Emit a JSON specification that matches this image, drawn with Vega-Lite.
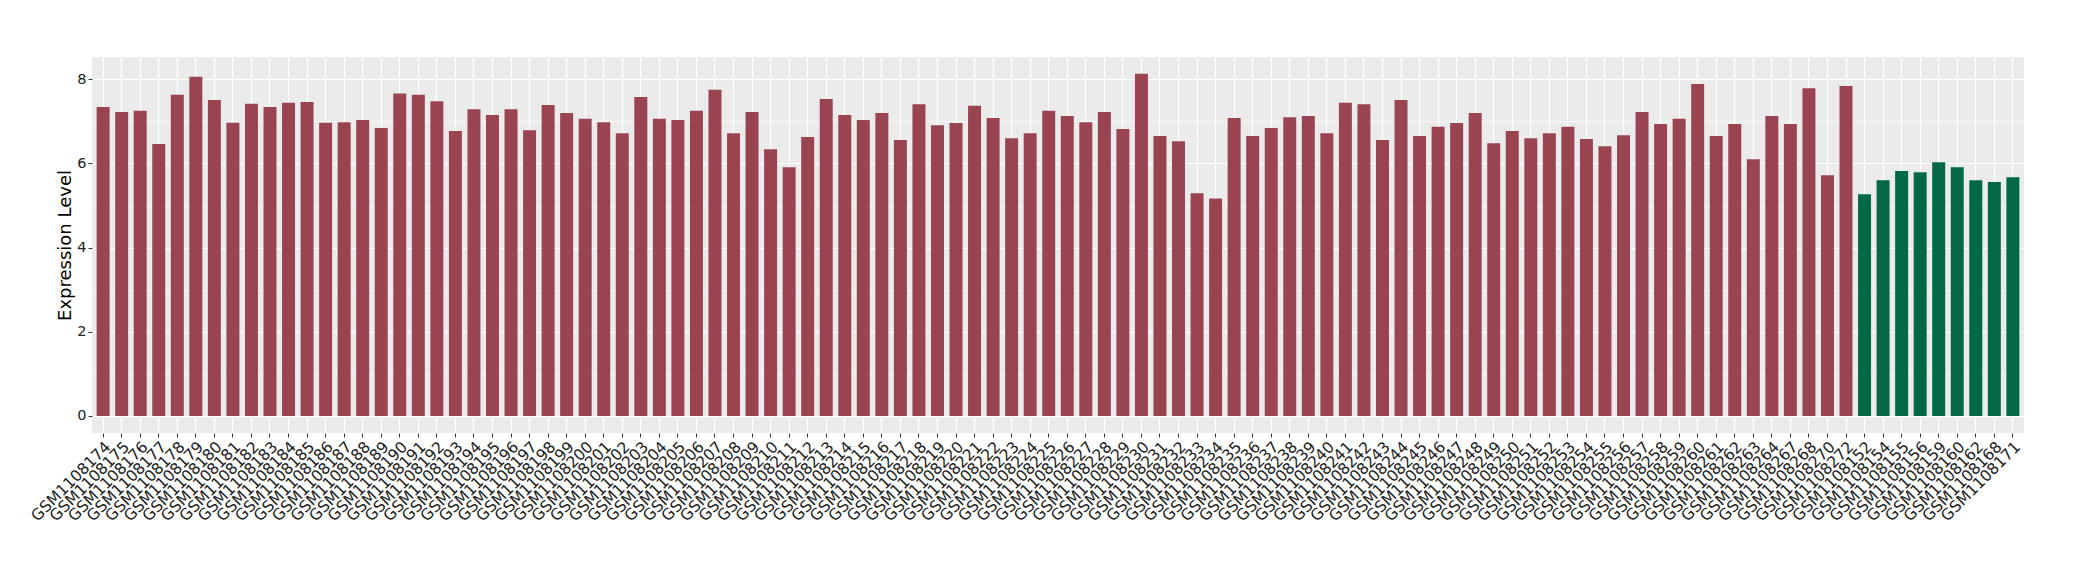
{
  "$schema": "https://vega.github.io/schema/vega-lite/v6.json",
  "width": 1932,
  "height": 376,
  "autosize": "none",
  "padding": {"left": 92, "top": 57, "right": 56, "bottom": 147},
  "background": "white",
  "config": {
    "font": "DejaVu Sans",
    "view": {"fill": "#EBEBEB", "stroke": null}
  },
  "data": {
    "values": [
      {"sample": "GSM1108174", "value": 7.34, "group": "A"},
      {"sample": "GSM1108175", "value": 7.22, "group": "A"},
      {"sample": "GSM1108176", "value": 7.25, "group": "A"},
      {"sample": "GSM1108177", "value": 6.46, "group": "A"},
      {"sample": "GSM1108178", "value": 7.63, "group": "A"},
      {"sample": "GSM1108179", "value": 8.06, "group": "A"},
      {"sample": "GSM1108180", "value": 7.51, "group": "A"},
      {"sample": "GSM1108181", "value": 6.97, "group": "A"},
      {"sample": "GSM1108182", "value": 7.42, "group": "A"},
      {"sample": "GSM1108183", "value": 7.34, "group": "A"},
      {"sample": "GSM1108184", "value": 7.44, "group": "A"},
      {"sample": "GSM1108185", "value": 7.46, "group": "A"},
      {"sample": "GSM1108186", "value": 6.97, "group": "A"},
      {"sample": "GSM1108187", "value": 6.98, "group": "A"},
      {"sample": "GSM1108188", "value": 7.03, "group": "A"},
      {"sample": "GSM1108189", "value": 6.84, "group": "A"},
      {"sample": "GSM1108190", "value": 7.66, "group": "A"},
      {"sample": "GSM1108191", "value": 7.63, "group": "A"},
      {"sample": "GSM1108192", "value": 7.48, "group": "A"},
      {"sample": "GSM1108193", "value": 6.77, "group": "A"},
      {"sample": "GSM1108194", "value": 7.29, "group": "A"},
      {"sample": "GSM1108195", "value": 7.15, "group": "A"},
      {"sample": "GSM1108196", "value": 7.29, "group": "A"},
      {"sample": "GSM1108197", "value": 6.79, "group": "A"},
      {"sample": "GSM1108198", "value": 7.39, "group": "A"},
      {"sample": "GSM1108199", "value": 7.20, "group": "A"},
      {"sample": "GSM1108200", "value": 7.06, "group": "A"},
      {"sample": "GSM1108201", "value": 6.98, "group": "A"},
      {"sample": "GSM1108202", "value": 6.72, "group": "A"},
      {"sample": "GSM1108203", "value": 7.58, "group": "A"},
      {"sample": "GSM1108204", "value": 7.06, "group": "A"},
      {"sample": "GSM1108205", "value": 7.03, "group": "A"},
      {"sample": "GSM1108206", "value": 7.25, "group": "A"},
      {"sample": "GSM1108207", "value": 7.75, "group": "A"},
      {"sample": "GSM1108208", "value": 6.72, "group": "A"},
      {"sample": "GSM1108209", "value": 7.22, "group": "A"},
      {"sample": "GSM1108210", "value": 6.34, "group": "A"},
      {"sample": "GSM1108211", "value": 5.91, "group": "A"},
      {"sample": "GSM1108212", "value": 6.63, "group": "A"},
      {"sample": "GSM1108213", "value": 7.53, "group": "A"},
      {"sample": "GSM1108214", "value": 7.15, "group": "A"},
      {"sample": "GSM1108215", "value": 7.03, "group": "A"},
      {"sample": "GSM1108216", "value": 7.20, "group": "A"},
      {"sample": "GSM1108217", "value": 6.56, "group": "A"},
      {"sample": "GSM1108218", "value": 7.41, "group": "A"},
      {"sample": "GSM1108219", "value": 6.91, "group": "A"},
      {"sample": "GSM1108220", "value": 6.96, "group": "A"},
      {"sample": "GSM1108221", "value": 7.37, "group": "A"},
      {"sample": "GSM1108222", "value": 7.08, "group": "A"},
      {"sample": "GSM1108223", "value": 6.60, "group": "A"},
      {"sample": "GSM1108224", "value": 6.72, "group": "A"},
      {"sample": "GSM1108225", "value": 7.25, "group": "A"},
      {"sample": "GSM1108226", "value": 7.13, "group": "A"},
      {"sample": "GSM1108227", "value": 6.98, "group": "A"},
      {"sample": "GSM1108228", "value": 7.22, "group": "A"},
      {"sample": "GSM1108229", "value": 6.82, "group": "A"},
      {"sample": "GSM1108230", "value": 8.13, "group": "A"},
      {"sample": "GSM1108231", "value": 6.65, "group": "A"},
      {"sample": "GSM1108232", "value": 6.53, "group": "A"},
      {"sample": "GSM1108233", "value": 5.29, "group": "A"},
      {"sample": "GSM1108234", "value": 5.17, "group": "A"},
      {"sample": "GSM1108235", "value": 7.08, "group": "A"},
      {"sample": "GSM1108236", "value": 6.65, "group": "A"},
      {"sample": "GSM1108237", "value": 6.84, "group": "A"},
      {"sample": "GSM1108238", "value": 7.10, "group": "A"},
      {"sample": "GSM1108239", "value": 7.13, "group": "A"},
      {"sample": "GSM1108240", "value": 6.72, "group": "A"},
      {"sample": "GSM1108241", "value": 7.44, "group": "A"},
      {"sample": "GSM1108242", "value": 7.41, "group": "A"},
      {"sample": "GSM1108243", "value": 6.56, "group": "A"},
      {"sample": "GSM1108244", "value": 7.51, "group": "A"},
      {"sample": "GSM1108245", "value": 6.65, "group": "A"},
      {"sample": "GSM1108246", "value": 6.87, "group": "A"},
      {"sample": "GSM1108247", "value": 6.96, "group": "A"},
      {"sample": "GSM1108248", "value": 7.20, "group": "A"},
      {"sample": "GSM1108249", "value": 6.48, "group": "A"},
      {"sample": "GSM1108250", "value": 6.77, "group": "A"},
      {"sample": "GSM1108251", "value": 6.60, "group": "A"},
      {"sample": "GSM1108252", "value": 6.72, "group": "A"},
      {"sample": "GSM1108253", "value": 6.87, "group": "A"},
      {"sample": "GSM1108254", "value": 6.58, "group": "A"},
      {"sample": "GSM1108255", "value": 6.41, "group": "A"},
      {"sample": "GSM1108256", "value": 6.67, "group": "A"},
      {"sample": "GSM1108257", "value": 7.22, "group": "A"},
      {"sample": "GSM1108258", "value": 6.94, "group": "A"},
      {"sample": "GSM1108259", "value": 7.06, "group": "A"},
      {"sample": "GSM1108260", "value": 7.89, "group": "A"},
      {"sample": "GSM1108261", "value": 6.65, "group": "A"},
      {"sample": "GSM1108262", "value": 6.94, "group": "A"},
      {"sample": "GSM1108263", "value": 6.10, "group": "A"},
      {"sample": "GSM1108264", "value": 7.13, "group": "A"},
      {"sample": "GSM1108267", "value": 6.94, "group": "A"},
      {"sample": "GSM1108268", "value": 7.79, "group": "A"},
      {"sample": "GSM1108270", "value": 5.72, "group": "A"},
      {"sample": "GSM1108272", "value": 7.84, "group": "A"},
      {"sample": "GSM1108152", "value": 5.27, "group": "B"},
      {"sample": "GSM1108154", "value": 5.60, "group": "B"},
      {"sample": "GSM1108155", "value": 5.82, "group": "B"},
      {"sample": "GSM1108156", "value": 5.79, "group": "B"},
      {"sample": "GSM1108159", "value": 6.03, "group": "B"},
      {"sample": "GSM1108160", "value": 5.91, "group": "B"},
      {"sample": "GSM1108162", "value": 5.60, "group": "B"},
      {"sample": "GSM1108168", "value": 5.56, "group": "B"},
      {"sample": "GSM1108171", "value": 5.67, "group": "B"}
    ]
  },
  "layer": [
    {
      "mark": {"type": "bar", "opacity": 0},
      "encoding": {
        "x": {
          "field": "sample", "type": "nominal", "sort": null,
          "scale": {"paddingInner": 0.3, "paddingOuter": 0.25},
          "axis": {
            "title": null, "labelAngle": -45, "labelAlign": "right", "labelBaseline": "top",
            "labelFontSize": 15.6, "labelColor": "#222222", "labelPadding": 2, "labelOverlap": false,
            "labelBound": false, "labelFlush": false,
            "tickColor": "#333333", "tickSize": 4, "tickWidth": 1, "domain": false,
            "grid": true, "gridColor": "#FFFFFF", "gridWidth": 1.2, "bandPosition": 0.5
          }
        },
        "y": {
          "field": "value", "type": "quantitative",
          "scale": {"domain": [-0.406, 8.53], "nice": false, "zero": false},
          "axis": {
            "orient": "left", "values": [1, 3, 5, 7], "labels": false, "ticks": false, "domain": false,
            "title": null, "grid": true, "gridColor": "#FFFFFF", "gridWidth": 0.6
          }
        },
        "y2": {"datum": 0}
      }
    },
    {
      "mark": {"type": "bar"},
      "encoding": {
        "x": {
          "field": "sample", "type": "nominal", "sort": null,
          "scale": {"paddingInner": 0.3, "paddingOuter": 0.25}
        },
        "y": {
          "field": "value", "type": "quantitative",
          "scale": {"domain": [-0.406, 8.53], "nice": false, "zero": false},
          "axis": {
            "orient": "left", "values": [0, 2, 4, 6, 8], "domain": false,
            "title": "Expression Level", "titleFontSize": 18, "titleFontWeight": "normal",
            "titleColor": "#000000", "titlePadding": 2,
            "labelFontSize": 14.5, "labelColor": "#222222", "labelPadding": 2,
            "tickColor": "#333333", "tickSize": 4, "tickWidth": 1,
            "grid": true, "gridColor": "#FFFFFF", "gridWidth": 1.2
          }
        },
        "y2": {"datum": 0},
        "color": {
          "field": "group", "type": "nominal",
          "scale": {"domain": ["A", "B"], "range": ["#9A4351", "#026846"]},
          "legend": null
        }
      }
    }
  ],
  "resolve": {"axis": {"y": "independent"}}
}
